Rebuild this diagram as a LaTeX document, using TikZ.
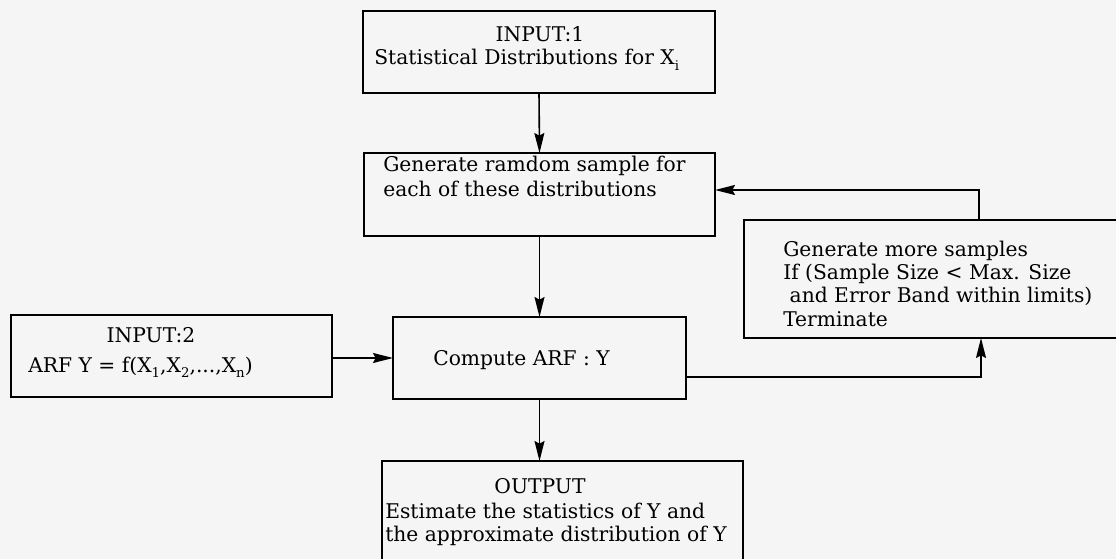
\documentclass[tikz,border=0pt]{standalone}
\usepackage{fontspec}
\setmainfont{DejaVu Serif}
\usetikzlibrary{arrows.meta}
\newcommand\lowsub[1]{\raisebox{-0.55ex}{\fontsize{10}{10}\selectfont #1}}
\begin{document}
\begin{tikzpicture}[x=0.75pt,y=-0.75pt,
  font=\fontsize{15.2}{18}\selectfont,
  box/.style={draw, line width=1.2pt, inner sep=0pt, outer sep=0pt, anchor=north west},
  txt/.style={inner sep=0pt, anchor=base west},
  ctxt/.style={inner sep=0pt, anchor=base},
  arr/.style={line width=1.2pt, -{Stealth[length=15pt,width=7.5pt,inset=2pt]}}]
\useasboundingbox[fill=black!4] (0,0) rectangle (1116,559);

% boxes
\node[box, minimum width={352*0.75pt}, minimum height={82*0.75pt}] (in1) at (363,11) {};
\node[box, minimum width={351*0.75pt}, minimum height={83*0.75pt}] (gen) at (364,153) {};
\node[box, minimum width={293*0.75pt}, minimum height={82*0.75pt}] (comp) at (393,317) {};
\node[box, minimum width={321*0.75pt}, minimum height={82*0.75pt}] (in2) at (11,315) {};
\node[box, minimum width={378*0.75pt}, minimum height={118*0.75pt}] (more) at (744,220) {};
\node[box, minimum width={361*0.75pt}, minimum height={110*0.75pt}] (out) at (382,461) {};

% texts
\node[ctxt] (in1a) at (540,42) {INPUT:1};
\node[txt] (in1b) at (374,65) {Statistical Distributions for X\lowsub{i}};
\node[txt] (gena) at (383,172) {Generate ramdom sample for};
\node[txt] (genb) at (383,197) {each of these distributions};
\node[txt] (compa) at (433,365) {Compute ARF : Y};
\node[ctxt] (in2a) at (151,343) {INPUT:2};
\node[txt] (in2b) at (28,372) {ARF Y = f(X\lowsub{1},X\lowsub{2},...,X\lowsub{n})};
\node[txt] (morea) at (783,257) {Generate more samples};
\node[txt] (moreb) at (783,280) {If (Sample Size < Max. Size};
\node[txt] (morec) at (783,303) {\ and Error Band within limits)};
\node[txt] (mored) at (783,326) {Terminate};
\node[ctxt] (outa) at (540,493) {OUTPUT};
\node[txt] (outb) at (385,518) {Estimate the statistics of Y and};
\node[txt] (outc) at (385,541) {the approximate distribution of Y};

% connectors
\draw[arr] (in1.south) -- (gen.north);
\draw[arr] (gen.south) -- (comp.north);
\draw[arr] (comp.south) -- (comp.south |- out.north);
\draw[arr] (in2.east |- comp.west) -- (comp.west);
\draw[arr] (comp.east |- 0,377) -| (981,0 |- more.south);
\draw[arr] (979,0 |- more.north) |- (gen.east |- 0,190);
\end{tikzpicture}
\end{document}
